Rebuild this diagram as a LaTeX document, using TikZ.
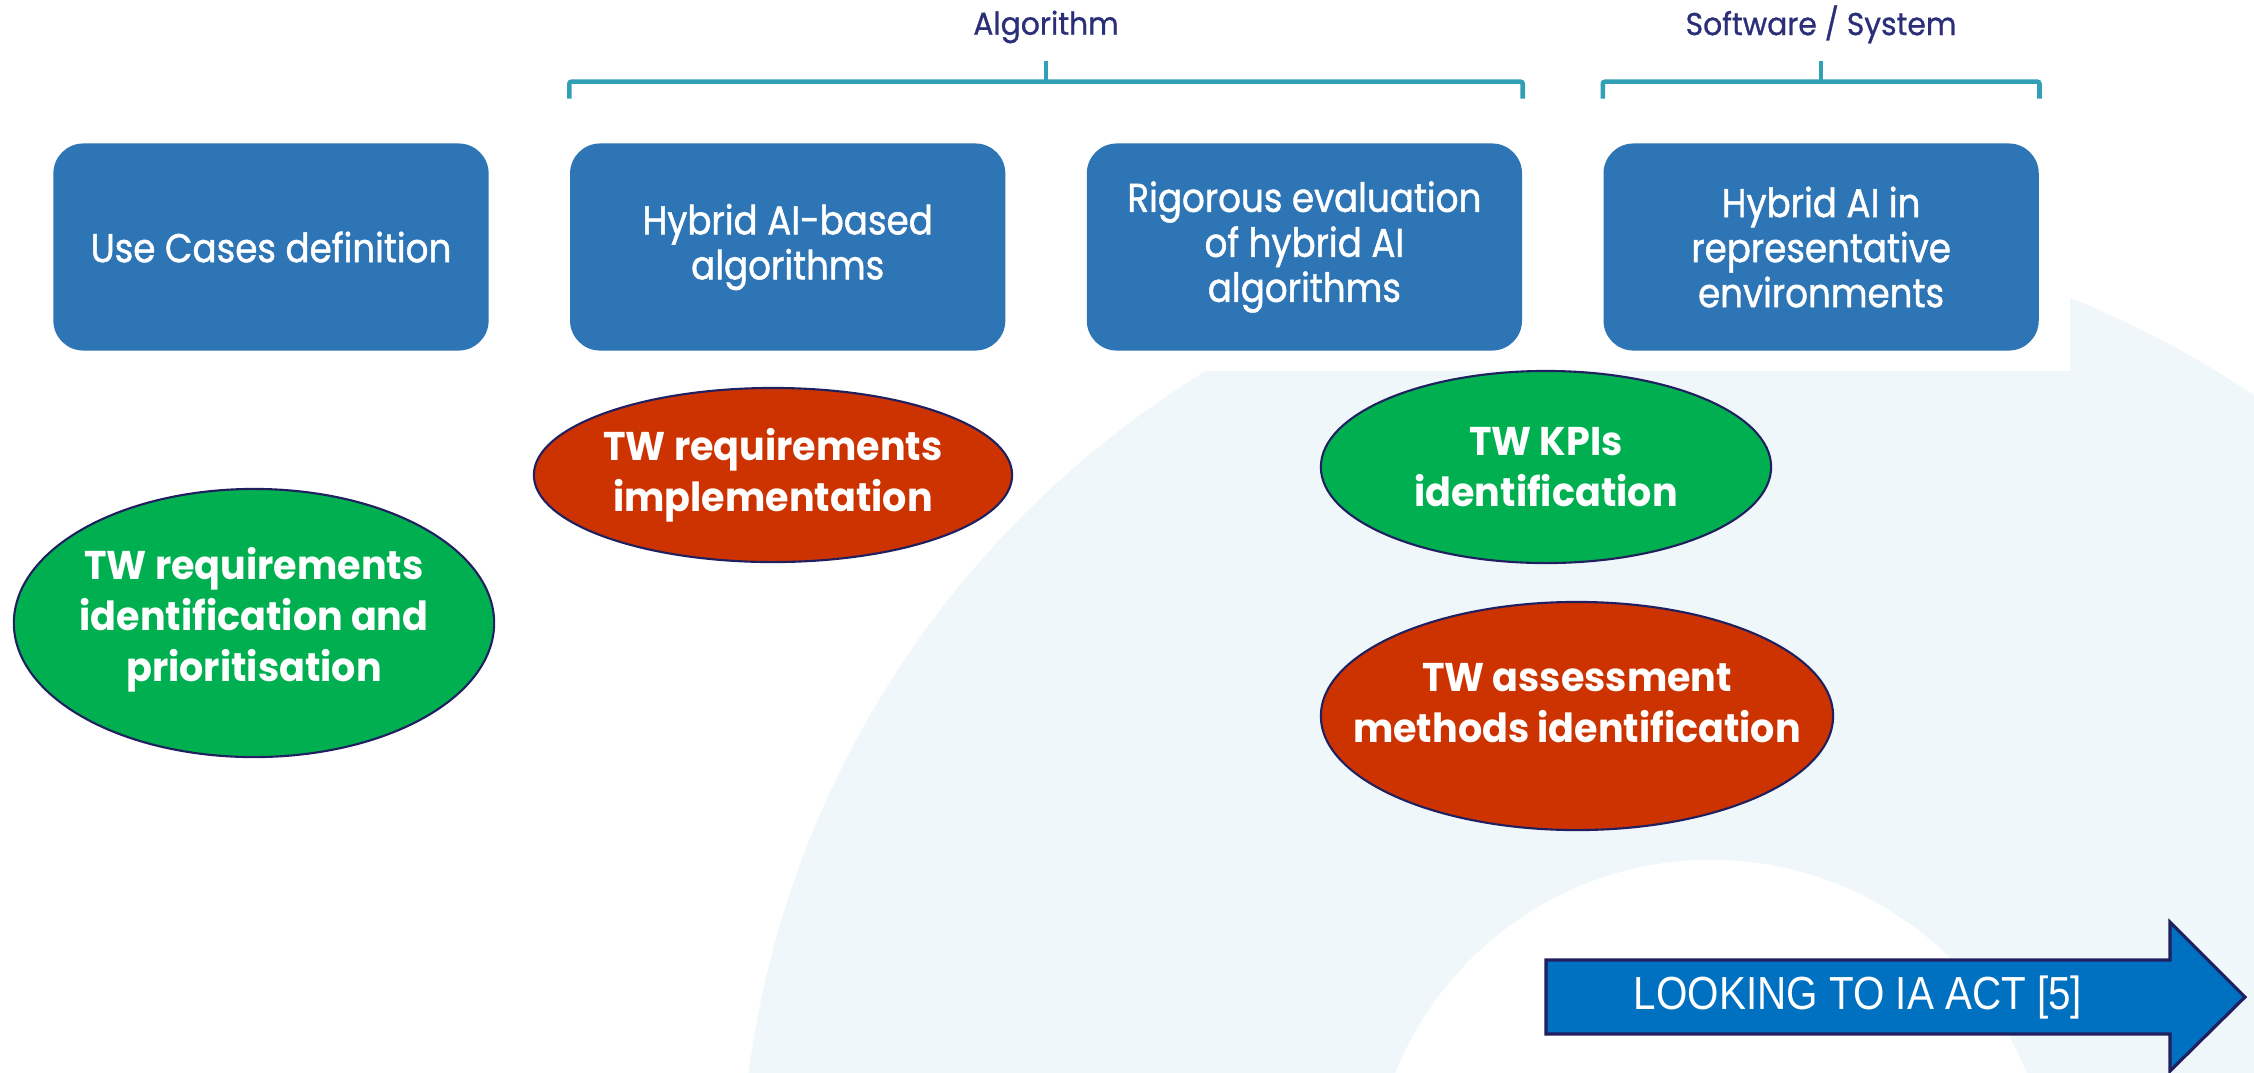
\documentclass[tikz,border=0pt]{standalone}
\usepackage{fontspec}
\setmainfont{Poppins}
\newfontfamily\boxfont[FakeStretch=0.89,FakeBold=1.2]{Poppins}
\newfontfamily\headfont[FakeStretch=0.94,FakeBold=0.8]{Poppins}
\newfontfamily\ovalfont[FakeStretch=0.95]{Poppins}
\newfontfamily\arrowfont[FakeStretch=0.87]{Liberation Sans}
\usetikzlibrary{positioning,shapes.geometric}
\definecolor{boxblue}{RGB}{46,117,182}
\definecolor{bracketteal}{RGB}{49,160,181}
\definecolor{headnavy}{RGB}{43,47,120}
\definecolor{twgreen}{RGB}{0,176,80}
\definecolor{twred}{RGB}{204,51,0}
\definecolor{edgenavy}{RGB}{32,32,96}
\definecolor{arrowblue}{RGB}{0,112,192}
\definecolor{bglight}{RGB}{239,247,250}
\tikzset{
  stagebox/.style={rounded corners=0.3cm, fill=boxblue, text=white, align=center,
    minimum width=4.35cm, minimum height=2.07cm, inner sep=0pt,
    font=\boxfont\fontsize{11.4}{12.8}\selectfont},
  twoval/.style={ellipse, draw=edgenavy, line width=0.6pt, text=white, align=center,
    inner xsep=-1cm, inner ysep=-0.5cm, font=\ovalfont\bfseries\fontsize{11.4}{14.5}\selectfont},
  bracket/.style={draw=bracketteal, line width=1.3pt, rounded corners=0.6pt},
  headtext/.style={text=headnavy, font=\headfont\fontsize{9}{9}\selectfont}
}

\begin{document}
\begin{tikzpicture}[x=0.01cm,y=-0.01cm]
\useasboundingbox (0,0) rectangle (2254,1072);
\clip (0,0) rectangle (2254,1072);
\fill[white] (0,0) rectangle (2254,1072);
\fill[bglight] (1711,1200) circle (9.7cm);
\fill[white] (1711,1200) circle (3.4cm);
\fill[white] (0,0) rectangle (2070,371);

\node[stagebox] (usecases) at (271,247) {Use Cases definition};
\node[stagebox, right=0.8cm of usecases] (hybridalgo) {Hybrid AI-based\\algorithms};
\node[stagebox, right=0.8cm of hybridalgo] (rigorous) {Rigorous evaluation\\of hybrid AI\\algorithms};
\node[stagebox, right=0.8cm of rigorous] (representative) {Hybrid AI in\\representative\\environments};

\draw[bracket] ([yshift=0.44cm]hybridalgo.north west) -- ([yshift=0.61cm]hybridalgo.north west)
  -- ([yshift=0.61cm]rigorous.north east) -- ([yshift=0.44cm]rigorous.north east);
\path ([yshift=0.61cm]hybridalgo.north west) -- ([yshift=0.61cm]rigorous.north east) coordinate[pos=0.5] (algotick);
\draw[bracket] (algotick) -- ++(0,-21) coordinate (algotop);
\node[headtext, above=0.05cm of algotop] (algolabel) {Algorithm};

\draw[bracket] ([yshift=0.44cm]representative.north west) -- ([yshift=0.61cm]representative.north west)
  -- ([yshift=0.61cm]representative.north east) -- ([yshift=0.44cm]representative.north east);
\path ([yshift=0.61cm]representative.north west) -- ([yshift=0.61cm]representative.north east) coordinate[pos=0.5] (systick);
\draw[bracket] (systick) -- ++(0,-21) coordinate (systop);
\node[headtext, above=0.05cm of systop] (syslabel) {Software / System};

\node[twoval, fill=twgreen, minimum width=4.8cm, minimum height=2.68cm, text depth=0.17cm] (reqident) at (254,623) {TW requirements\\identification and\\prioritisation};
\node[twoval, fill=twred, minimum width=4.78cm, minimum height=1.74cm] (reqimpl) at (773,475) {TW requirements\\implementation};
\node[twoval, fill=twgreen, minimum width=4.5cm, minimum height=1.92cm] (kpis) at (1546,467) {TW KPIs\\identification};
\node[twoval, fill=twred, minimum width=5.12cm, minimum height=2.28cm, text depth=0.26cm] (assess) at (1577,716) {TW assessment\\methods identification};

\draw[fill=arrowblue, draw=edgenavy, line width=0.9pt] (1546,960) -- (2170,960) -- (2170,922) -- (2245,997)
  -- (2170,1071) -- (2170,1034) -- (1546,1034) -- cycle;
\node[text=white, font=\arrowfont\fontsize{13.2}{13.2}\selectfont] (iaact) at (1858,997) {LOOKING TO IA ACT [5]};
\end{tikzpicture}
\end{document}
